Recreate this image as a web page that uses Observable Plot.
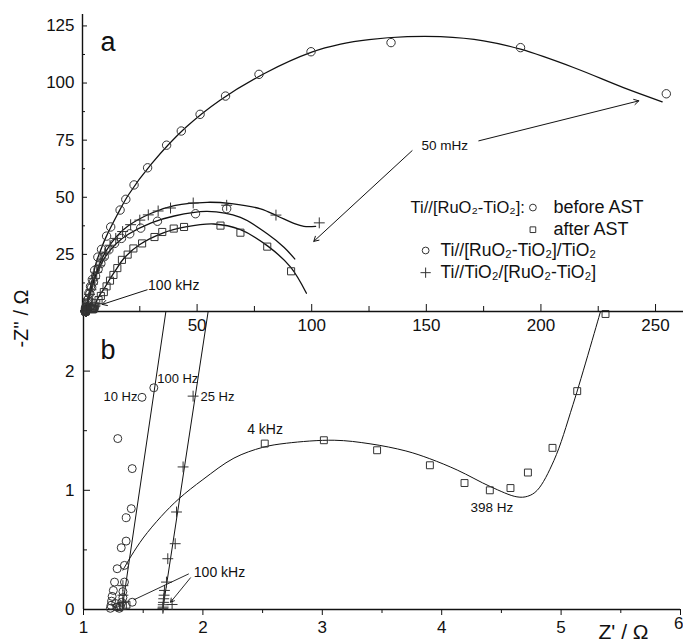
<!DOCTYPE html>
<html><head><meta charset="utf-8">
<script src="https://cdn.jsdelivr.net/npm/d3@7"></script>
<script src="https://cdn.jsdelivr.net/npm/@observablehq/plot@0.6"></script>
<style>
html,body{margin:0;padding:0;background:#fff;}
#wrap{position:relative;width:683px;height:642px;overflow:hidden;background:#fff;}
#wrap svg{position:absolute;left:0;top:0;}
</style></head><body><div id="wrap"></div>
<script>
// ===== Panel b : high-frequency region, Z' (Ω) vs -Z'' (Ω) =====
const bCircX = [1.589,1.49,1.287,1.408,1.40,1.358,1.357,1.316,1.282,1.343,1.26,1.343,1.408,1.25,1.24,1.235,1.23,1.225,1.33,1.33,1.32,1.31,1.30,1.27,1.28];
const bCircY = [1.86,1.78,1.434,1.182,0.846,0.770,0.574,0.518,0.342,0.370,0.23,0.23,0.061,0.16,0.11,0.07,0.035,0.01,0.15,0.10,0.06,0.03,0.01,0.05,0.02];
const bPlusX = [1.918,1.834,1.779,1.768,1.706,1.695,1.678,1.675,1.672,1.670,1.668,1.667,1.665,1.742,1.33,1.33,1.33];
const bPlusY = [1.79,1.196,0.818,0.552,0.426,0.23,0.16,0.12,0.09,0.06,0.04,0.02,0.01,0.042,0.2,0.12,0.06];
const bSqX = [1.30,1.33,1.36,2.518,3.013,3.459,3.901,4.191,4.403,4.576,4.722,4.928,5.135,5.372];
const bSqY = [0.02,0.03,0.04,1.392,1.42,1.336,1.21,1.061,1.0,1.019,1.149,1.356,1.832,2.479];
const bLineCircX = [1.323,1.69], bLineCircY = [0,2.5];
const bLinePlusX = [1.664,2.044], bLinePlusY = [0,2.5];
const bSqFitX = [1.33,1.4,1.5,1.65,1.8,2.0,2.26,2.5,2.7,3.1,3.4,3.7,3.9,4.13,4.41,4.63,4.72,4.8,4.94,5.1,5.33];
const bSqFitY = [0.33,0.45,0.6,0.78,0.93,1.09,1.27,1.36,1.395,1.42,1.39,1.33,1.265,1.17,1.03,0.945,0.95,1.0,1.25,1.72,2.5];

const bXTicks = [1,2,3,4,5,6];
const bXMinor = [1.5,2.5,3.5,4.5,5.5];
const bYTicks = [0,1,2];
const bYMinor = [0.5,1.5];

// ===== Panel a : full spectra (the panel b points are included too) =====
// Ti//[RuO2-TiO2] before AST (circles)
const aBeforeX = [1.8,2.2,2.8,3.5,4.3,5.3,6.7,8.3,10.5,12.3,16.4,18.9,22.5,28.4,36.7,43.1,51.3,62.4,77.0,99.7,134.6,191.1,254.7];
const aBeforeY = [3.0,5.0,8.0,11.0,14.0,18.0,23.8,27.2,33.0,37.0,44.4,49.1,55.4,62.9,72.8,79.0,86.3,94.3,103.8,113.7,117.7,115.5,95.3];
const aBeforeFitX = [1.32,1.7,2.5,4,6,8.3,10,15,20,30,45,60,80,100,112.6,125,141.7,156.2,175,191.1,214.2,236,252.9];
const aBeforeFitY = [0,2.5,6.5,13,21.5,27.8,32,42,51,64.5,80.5,92.5,104.5,113.5,117,119,120.3,120.3,118.5,114.8,106.8,98,91.8];
// Ti//[RuO2-TiO2] after AST (squares)
const aAfterX = [6.0,7.0,8.0,9.3,10.5,12.0,13.5,15.2,17.2,19.7,22.2,26.0,31.4,34.8,39.8,44.3,60.2,68.9,80.6,91.0];
const aAfterY = [3.6,5.0,6.8,8.5,11.0,13.5,16.0,19.0,22.6,24.9,27.6,29.8,32.6,34.8,36.3,37.0,37.6,34.5,28.4,17.6];
const aAfterFitX = [6.0,7.5,9.3,11.5,14.4,18,25,35,45,57.3,68.9,81,90.8,97.7];
const aAfterFitY = [4.3,7.2,9.8,13.5,18,23.2,29.3,34.3,37,38.3,35.8,28.5,19.4,8.0];
// Ti//[RuO2-TiO2]/TiO2 (circles)
const aOuterX = [1.45,1.7,2.1,2.6,3.2,4.0,4.8,5.7,6.8,8.0,9.5,11.5,14.0,17.0,20.6,25.4,32.7,49.3,62.9];
const aOuterY = [0.8,2.0,3.6,5.5,7.8,10.5,13.0,15.5,18.5,21.0,24.0,27.0,29.8,32.0,34.0,36.5,39.5,42.8,45.0];
const aOuterFitX = [1.3,2,3,6,10,15,20,30,40,54.4,68.9,80.6,88,92.6];
const aOuterFitY = [0,3.5,7,16,24,30,33.8,38.8,41.8,43.8,41.2,34,28,23];
// Ti//TiO2/[RuO2-TiO2] (plus)
const aPlusX = [2.2,2.6,3.1,3.7,4.4,5.2,6.2,7.3,8.5,10.0,12.0,14.5,17.5,21.0,25.0,28.7,33.0,38.4,48.3,62.9,84.4,103.3];
const aPlusY = [3.5,5.5,7.5,9.5,12.0,14.5,17.2,20.0,23.0,26.0,29.0,32.0,35.0,38.0,40.0,42.3,44.0,45.3,47.5,46.5,42.2,38.8];
const aPlusFitX = [1.66,2.05,3,6,10,15,20,30,40,54.4,65,77.7,85,92.2,96.6,101.7];
const aPlusFitY = [0,2.5,7,17,26,33,37.5,43,46.3,47.8,47.2,44.9,41.8,38.6,37.3,37.3];

const aXTicks = [50,100,150,200,250];
const aXMinor = [25,75,125,175,225];
const aYTicks = [25,50,75,100,125];
const aYMinor = [12.5,37.5,62.5,87.5,112.5];

// annotation arrows, panel a (from label to point)
const aArrowX1 = [28.2,143.8,172.9], aArrowY1 = [9.5,70.4,74.7];
const aArrowX2 = [8.6,100.9,242.7],  aArrowY2 = [3.1,30.7,92.2];

// ===== build =====
const zip = (xs, ys) => xs.map((x, i) => ({x, y: ys[i]}));
const font = "'Liberation Sans', Arial, Helvetica, sans-serif";
const ink = "#111";
const mk = "#333";
const baseStyle = {fontFamily: font, fontSize: "17px", background: "transparent", overflow: "visible", color: ink};
const fmt = d => String(d);
const dotOpts = (sym, r) => ({x: "x", y: "y", symbol: sym, r, stroke: mk, strokeWidth: 1, fill: "none"});

const plotB = Plot.plot({
  width: 683, height: 642,
  marginLeft: 83, marginRight: 3, marginTop: 311, marginBottom: 33,
  x: {domain: [1, 6]},
  y: {domain: [0, 2.5]},
  style: {...baseStyle, background: "white"},
  marks: [
    Plot.ruleX([1], {stroke: ink, strokeWidth: 1.4}),
    Plot.ruleY([0], {stroke: ink, strokeWidth: 1.4}),
    Plot.axisX({ticks: bXTicks, tickSize: 6, tickPadding: 5, label: null, fontSize: 17, tickFormat: d => d === 6 ? "" : fmt(d)}),
    Plot.axisX({ticks: bXMinor, tickSize: 4, tickFormat: () => "", label: null}),
    Plot.axisY({ticks: bYTicks, tickSize: -7, tickFormat: () => "", label: null}),
    Plot.axisY({ticks: bYMinor, tickSize: -4, tickFormat: () => "", label: null}),
    Plot.axisY({ticks: bYTicks, tickSize: 0, tickPadding: 9, label: null, fontSize: 17, tickFormat: fmt}),
    Plot.text(bXTicks.filter(d => d === 6), {x: d => d, y: [-0.12], text: fmt, fontSize: 17, textAnchor: "end", dx: 3}),
    Plot.line(zip(bLineCircX, bLineCircY), {x: "x", y: "y", stroke: ink, strokeWidth: 1}),
    Plot.line(zip(bLinePlusX, bLinePlusY), {x: "x", y: "y", stroke: ink, strokeWidth: 1}),
    Plot.line(zip(bSqFitX, bSqFitY), {x: "x", y: "y", stroke: ink, strokeWidth: 1, curve: "catmull-rom"}),
    Plot.dot(zip(bCircX, bCircY), dotOpts("circle", 4)),
    Plot.dot(zip(bPlusX, bPlusY), dotOpts("plus", 3.6)),
    Plot.dot(zip(bSqX, bSqY), dotOpts("square", 3.9)),
    Plot.link([{x1: 1.882, y1: 0.299, x2: 1.421, y2: 0.081}], {x1: "x1", y1: "y1", x2: "x2", y2: "y2", stroke: ink, strokeWidth: 0.9}),
    Plot.arrow([{x1: 1.896, y1: 0.266, x2: 1.729, y2: 0.061}], {x1: "x1", y1: "y1", x2: "x2", y2: "y2", stroke: ink, strokeWidth: 0.9, headLength: 7}),
    Plot.text(["b"], {x: [1.142], y: [2.175], text: d => d, fontSize: 27, textAnchor: "start"}),
    Plot.text(["10 Hz"], {x: [1.452], y: [1.781], text: d => d, fontSize: 13, textAnchor: "end"}),
    Plot.text(["100 Hz"], {x: [1.617], y: [1.935], text: d => d, fontSize: 13, textAnchor: "start"}),
    Plot.text(["25 Hz"], {x: [1.98], y: [1.781], text: d => d, fontSize: 13, textAnchor: "start"}),
    Plot.text(["4 kHz"], {x: [2.371], y: [1.507], text: d => d, fontSize: 14, textAnchor: "start"}),
    Plot.text(["398 Hz"], {x: [4.241], y: [0.858], text: d => d, fontSize: 13.5, textAnchor: "start"}),
    Plot.text(["100 kHz"], {x: [1.924], y: [0.313], text: d => d, fontSize: 14, textAnchor: "start"}),
    Plot.text(["Z' / Ω"], {x: [5.523], y: [-0.19], text: d => d, fontSize: 21}),
    Plot.text(["-Z'' / Ω"], {x: [0.481], y: [2.441], text: d => d, fontSize: 20, rotate: -90})
  ]
});

const plotA = Plot.plot({
  width: 683, height: 345,
  marginLeft: 82, marginRight: 0, marginTop: 14, marginBottom: 34,
  x: {domain: [0, 262.2]},
  y: {domain: [0, 130]},
  style: baseStyle,
  marks: [
    Plot.ruleX([0], {stroke: ink, strokeWidth: 1.4}),
    Plot.ruleY([0], {stroke: ink, strokeWidth: 1.6}),
    Plot.axisX({ticks: aXTicks, tickSize: -7, tickFormat: () => "", label: null}),
    Plot.axisX({ticks: aXMinor, tickSize: -5, tickFormat: () => "", label: null}),
    Plot.axisX({ticks: aXTicks, tickSize: 0, tickPadding: 7, label: null, fontSize: 17, tickFormat: fmt}),
    Plot.axisY({ticks: aYTicks, tickSize: -5, tickFormat: () => "", label: null}),
    Plot.axisY({ticks: aYMinor, tickSize: -3, tickFormat: () => "", label: null}),
    Plot.axisY({ticks: aYTicks, tickSize: 0, tickPadding: 8, label: null, fontSize: 17, tickFormat: fmt}),
    Plot.line(zip(aBeforeFitX, aBeforeFitY), {x: "x", y: "y", stroke: ink, strokeWidth: 1.3, curve: "catmull-rom"}),
    Plot.line(zip(bSqFitX.concat(aAfterFitX), bSqFitY.concat(aAfterFitY)), {x: "x", y: "y", stroke: ink, strokeWidth: 1.3, curve: "catmull-rom"}),
    Plot.line(zip(aOuterFitX, aOuterFitY), {x: "x", y: "y", stroke: ink, strokeWidth: 1.3, curve: "catmull-rom"}),
    Plot.line(zip(aPlusFitX, aPlusFitY), {x: "x", y: "y", stroke: ink, strokeWidth: 1.3, curve: "catmull-rom"}),
    Plot.dot(zip(bCircX.concat(aBeforeX), bCircY.concat(aBeforeY)), dotOpts("circle", 4.2)),
    Plot.dot(zip(aOuterX, aOuterY), dotOpts("circle", 4.2)),
    Plot.dot(zip(bSqX.concat(aAfterX), bSqY.concat(aAfterY)), dotOpts("square", 4)),
    Plot.dot(zip(bPlusX.concat(aPlusX), bPlusY.concat(aPlusY)), dotOpts("plus", 3.6)),
    Plot.arrow(aArrowX1.map((x, i) => ({x1: x, y1: aArrowY1[i], x2: aArrowX2[i], y2: aArrowY2[i]})),
      {x1: "x1", y1: "y1", x2: "x2", y2: "y2", stroke: ink, strokeWidth: 1, headLength: 8}),
    Plot.text(["a"], {x: [7.9], y: [118], text: d => d, fontSize: 27, textAnchor: "start"}),
    Plot.text(["100 kHz"], {x: [28.6], y: [11.2], text: d => d, fontSize: 14, textAnchor: "start"}),
    Plot.text(["50 mHz"], {x: [158], y: [72.6], text: d => d, fontSize: 13.5}),
    // legend
    Plot.text(["Ti//[RuO₂-TiO₂]:"], {x: [193.0], y: [45.5], text: d => d, fontSize: 16.5, textAnchor: "end"}),
    Plot.text(["before AST"], {x: [205.5], y: [45.5], text: d => d, fontSize: 18, textAnchor: "start"}),
    Plot.text(["after AST"], {x: [205.5], y: [35.8], text: d => d, fontSize: 18, textAnchor: "start"}),
    Plot.text(["Ti//[RuO₂-TiO₂]/TiO₂"], {x: [156.2], y: [26.7], text: d => d, fontSize: 17.5, textAnchor: "start"}),
    Plot.text(["Ti//TiO₂/[RuO₂-TiO₂]"], {x: [156.2], y: [17.0], text: d => d, fontSize: 17.5, textAnchor: "start"}),
    Plot.dot([{x: 196.5, y: 45.5}], dotOpts("circle", 3.4)),
    Plot.dot([{x: 196.5, y: 35.8}], dotOpts("square", 3.2)),
    Plot.dot([{x: 149.7, y: 26.7}], dotOpts("circle", 3.4)),
    Plot.dot([{x: 149.7, y: 17.0}], dotOpts("plus", 3.4))
  ]
});

const wrap = document.getElementById("wrap");
wrap.appendChild(plotB);
wrap.appendChild(plotA);
</script></body></html>
